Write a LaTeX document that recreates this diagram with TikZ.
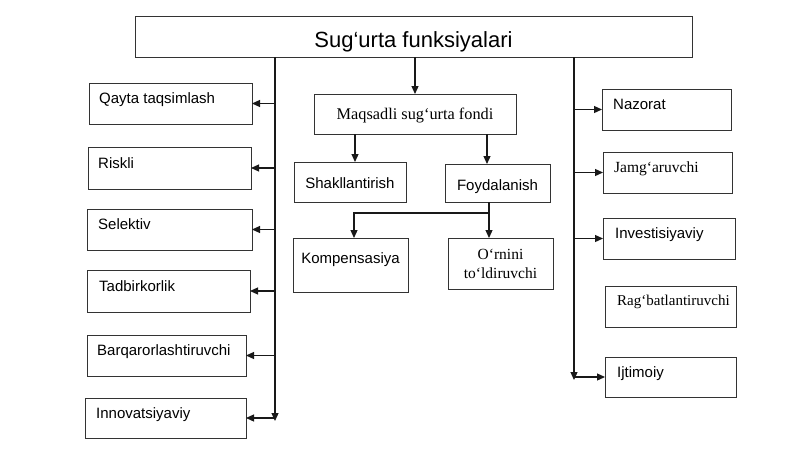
\documentclass[tikz,border=0pt]{standalone}
\usepackage{fontspec}
\setmainfont{Liberation Serif}
\setsansfont{Liberation Sans}
\usetikzlibrary{arrows.meta}
\begin{document}
\begin{tikzpicture}[x=1pt,y=-1pt,
  bx/.style={draw=black!80, line width=0.95pt, inner sep=0pt, outer sep=0pt, anchor=north west},
  sl/.style={font=\sffamily\fontsize{15}{17}\selectfont, inner sep=0pt, anchor=base west},
  rl/.style={font=\rmfamily\fontsize{15.5}{17}\selectfont, inner sep=0pt, anchor=base west},
  sc/.style={font=\sffamily\fontsize{15}{17}\selectfont, inner sep=0pt, anchor=base},
  ln/.style={draw=black!90, line width=1.2pt},
  arr/.style={ln, -{Triangle[length=8pt,width=7pt]}},
]
\useasboundingbox (0,0) rectangle (800,450);
\fill[white] (0,0) rectangle (800,450);

% top
\node[bx, minimum width=557pt, minimum height=41pt,
  label={[sc, font=\sffamily\fontsize{22}{26}\selectfont, yshift=-5.5pt]center:Sug‘urta funksiyalari}] (top) at (135,16) {};

% left column
\node[bx, minimum width=163pt, minimum height=41pt, label={[sl, xshift=10pt]west:Qayta taqsimlash}] (qayta) at (89,83) {};
\node[bx, minimum width=163pt, minimum height=42pt, label={[sl, xshift=10pt]west:Riskli}] (riskli) at (88,147) {};
\node[bx, minimum width=165pt, minimum height=41pt, label={[sl, xshift=11pt]west:Selektiv}] (selektiv) at (87,209) {};
\node[bx, minimum width=163pt, minimum height=42pt, label={[sl, xshift=12pt]west:Tadbirkorlik}] (tadbir) at (87,270) {};
\node[bx, minimum width=159pt, minimum height=41pt, label={[sl, xshift=10pt]west:Barqarorlashtiruvchi}] (barqaror) at (87,335) {};
\node[bx, minimum width=161pt, minimum height=40pt, label={[sl, xshift=11pt]west:Innovatsiyaviy}] (innov) at (85,398) {};

% right column
\node[bx, minimum width=129pt, minimum height=41pt, label={[sl, xshift=11pt]west:Nazorat}] (nazorat) at (602,89) {};
\node[bx, minimum width=129pt, minimum height=41pt, label={[rl, xshift=11pt]west:Jamg‘aruvchi}] (jamg) at (603,152) {};
\node[bx, minimum width=132pt, minimum height=41pt, label={[sl, xshift=12pt]west:Investisiyaviy}] (invest) at (603,218) {};
\node[bx, minimum width=131pt, minimum height=41pt, label={[rl, font=\rmfamily\fontsize{15}{17}\selectfont, xshift=12pt, yshift=1.5pt]west:Rag‘batlantiruvchi}] (ragbat) at (605,286) {};
\node[bx, minimum width=131pt, minimum height=40pt, label={[sl, xshift=12pt]west:Ijtimoiy}] (ijtim) at (605,357) {};

% middle
\node[bx, minimum width=202pt, minimum height=40pt,
  label={[sc, font=\rmfamily\fontsize{16.3}{19}\selectfont, yshift=-2pt]center:Maqsadli sug‘urta fondi}] (maq) at (314,94) {};
\node[bx, minimum width=112pt, minimum height=40pt, label={[sc, yshift=-1pt]center:Shakllantirish}] (shak) at (294,162) {};
\node[bx, minimum width=105pt, minimum height=38pt, label={[sc, yshift=-4pt]center:Foydalanish}] (foyd) at (445,164) {};
\node[bx, minimum width=115pt, minimum height=54pt, label={[sc, yshift=5pt]center:Kompensasiya}] (komp) at (293,238) {};
\node[bx, minimum width=105pt, minimum height=51pt, align=center,
  font=\rmfamily\fontsize{15.5}{19}\selectfont] (orn) at (448,238) {O‘rnini\\to‘ldiruvchi};

% coordinates
\coordinate (lx) at (275,0);
\coordinate (rx) at (574,0);
\coordinate (lbot) at (275,421);
\coordinate (rbot) at (574,380);
\coordinate (m1) at (355,0);
\coordinate (m2) at (487,0);
\coordinate (f1) at (489,213);
\coordinate (k1) at (354,0);

% connectors
\draw[arr] (top.south -| lx) -- (lbot);
\draw[arr] (top.south -| rx) -- (rbot);
\foreach \n in {qayta,riskli,selektiv,tadbir,barqaror,innov}
  \draw[arr] (\n.east -| lx) -- (\n.east);
\foreach \n in {nazorat,jamg,invest,ijtim}
  \draw[arr] (\n.west -| rx) -- (\n.west);
\draw[arr] (top.south -| maq.north) -- (maq.north);
\draw[arr] (maq.south -| m1) -- (shak.north -| m1);
\draw[arr] (maq.south -| m2) -- (foyd.north -| m2);
\draw[arr] (foyd.south -| f1) -- (orn.north -| f1);
\draw[arr] (f1) -| (komp.north -| k1);
\end{tikzpicture}
\end{document}
